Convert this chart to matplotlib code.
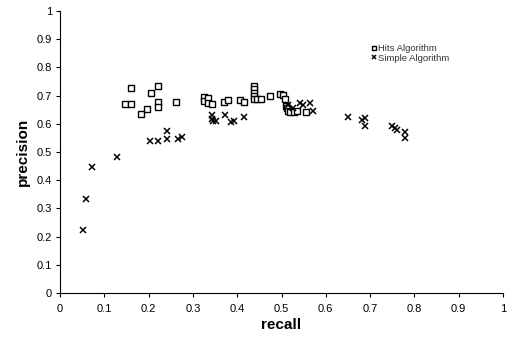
import matplotlib
matplotlib.use("Agg")
import matplotlib.pyplot as plt

hits_recall = [0.147, 0.159, 0.159, 0.182, 0.197, 0.205, 0.222, 0.222, 0.222, 0.262,
               0.325, 0.325, 0.335, 0.335, 0.342, 0.369, 0.378, 0.407, 0.416,
               0.438, 0.438, 0.438, 0.438, 0.438, 0.444, 0.453, 0.474, 0.497, 0.504,
               0.508, 0.510, 0.512, 0.515, 0.519, 0.528, 0.534, 0.555]
hits_precision = [0.670, 0.670, 0.726, 0.634, 0.651, 0.708, 0.734, 0.678, 0.660, 0.678,
                  0.696, 0.681, 0.690, 0.673, 0.670, 0.678, 0.683, 0.684, 0.679,
                  0.734, 0.722, 0.710, 0.699, 0.687, 0.687, 0.687, 0.699, 0.705, 0.703,
                  0.687, 0.664, 0.656, 0.645, 0.642, 0.642, 0.646, 0.641]

simple_recall = [0.051, 0.059, 0.072, 0.128, 0.203, 0.220, 0.242, 0.242, 0.267, 0.275,
                 0.342, 0.342, 0.346, 0.352, 0.372, 0.385, 0.393, 0.415,
                 0.515, 0.527, 0.542, 0.549, 0.564, 0.572,
                 0.651, 0.681, 0.688, 0.688, 0.750, 0.756, 0.760, 0.780, 0.780]
simple_precision = [0.223, 0.333, 0.446, 0.482, 0.539, 0.539, 0.576, 0.546, 0.546, 0.554,
                    0.631, 0.616, 0.611, 0.611, 0.631, 0.607, 0.611, 0.623,
                    0.667, 0.655, 0.673, 0.667, 0.675, 0.646,
                    0.623, 0.613, 0.619, 0.592, 0.593, 0.584, 0.578, 0.572, 0.549]

ticks = [0, 0.1, 0.2, 0.3, 0.4, 0.5, 0.6, 0.7, 0.8, 0.9, 1]
tick_labels = ["0", "0.1", "0.2", "0.3", "0.4", "0.5", "0.6", "0.7", "0.8", "0.9", "1"]

plt.rcParams['font.family'] = ['Liberation Sans', 'DejaVu Sans']

fig = plt.figure(figsize=(5.1, 3.45), dpi=100)
ax = fig.add_axes([0.118, 0.151, 0.868, 0.817])

ax.plot(hits_recall, hits_precision, linestyle='none', marker='s', markersize=4.8,
        markerfacecolor='white', markeredgecolor='black', markeredgewidth=1.0,
        label='Hits Algorithm')
ax.plot(simple_recall, simple_precision, linestyle='none', marker='x', markersize=4.5,
        color='black', markeredgewidth=1.1, label='Simple Algorithm')

ax.set_xlim(0, 1)
ax.set_ylim(0, 1)
ax.set_xticks(ticks)
ax.set_xticklabels(tick_labels)
ax.set_yticks(ticks)
ax.set_yticklabels(tick_labels)
ax.tick_params(axis='both', labelsize=8, length=3, width=0.8, direction='out', pad=3)
ax.tick_params(axis='x', pad=5)
ax.spines['top'].set_visible(False)
ax.spines['right'].set_visible(False)
ax.spines['left'].set_linewidth(0.8)
ax.spines['bottom'].set_linewidth(0.8)

ax.set_xlabel('recall', fontsize=11, fontweight='bold', labelpad=3)
ax.set_ylabel('precision', fontsize=11, fontweight='bold', labelpad=5)

leg = ax.legend(loc='center left', bbox_to_anchor=(0.69, 0.85), frameon=False,
                fontsize=6.8, handlelength=0.5, handletextpad=0.25, labelspacing=0.05,
                borderpad=0.1, markerscale=0.75)
for t in leg.get_texts():
    t.set_color('#333333')

fig.savefig('out.png', dpi=100)
